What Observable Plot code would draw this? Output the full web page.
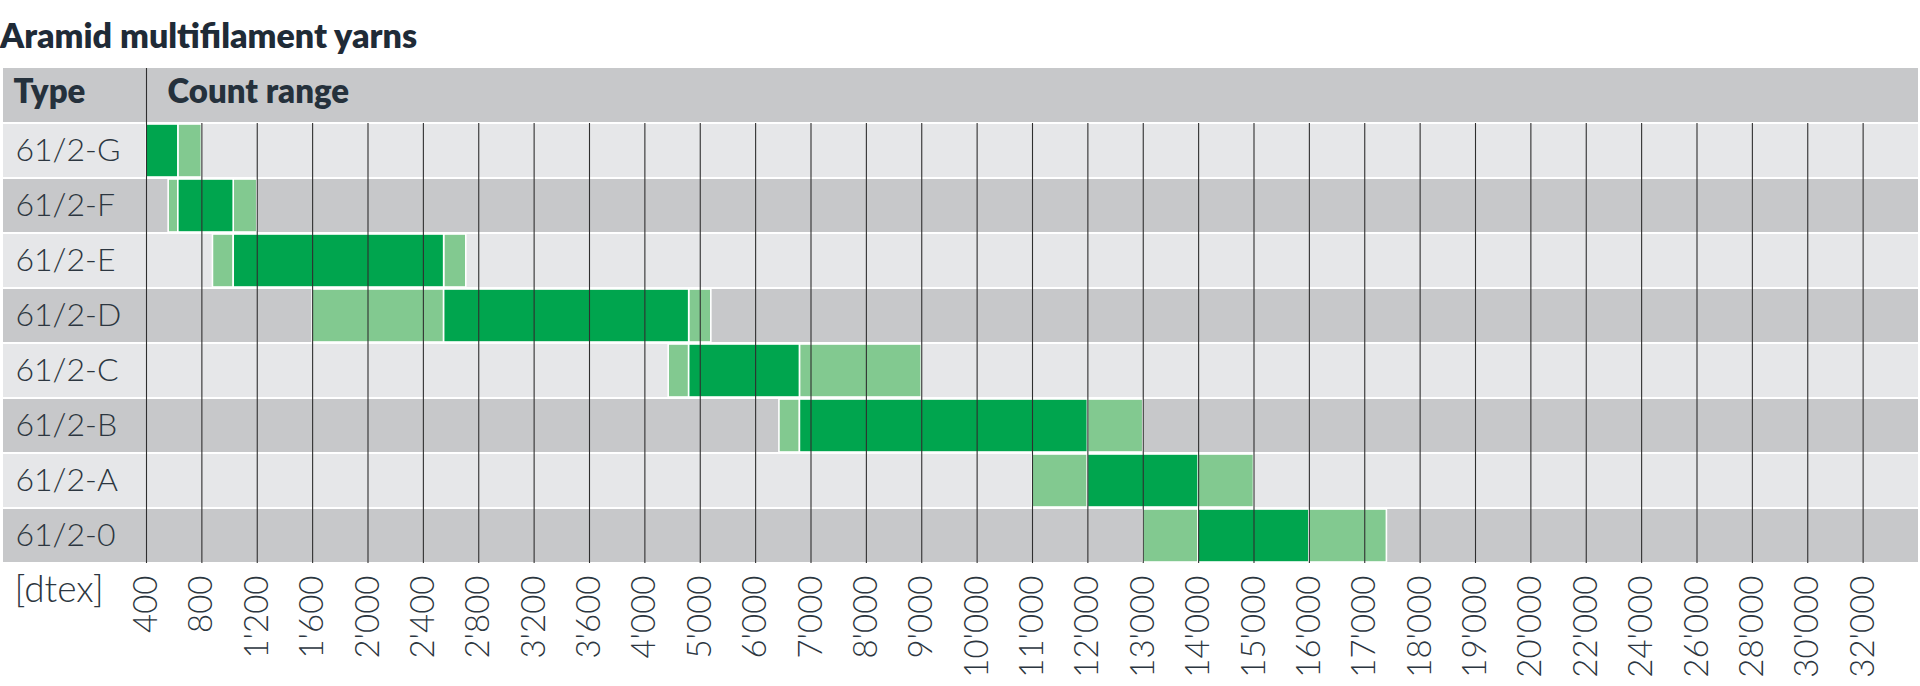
<!DOCTYPE html>
<html>
<head>
<meta charset="utf-8">
<script src="https://cdn.jsdelivr.net/npm/d3@7"></script>
<script src="https://cdn.jsdelivr.net/npm/@observablehq/plot@0.6"></script>
<style>
  html, body { margin: 0; padding: 0; background: #ffffff; }
  #title {
    font-family: Lato, "Open Sans", sans-serif;
    font-weight: 800;
    font-size: 34px;
    line-height: 60px;
    height: 55px;
    padding-top: 5px;
    color: #1f2b37;
    white-space: nowrap;
  }
  #chart svg g[aria-label^="x-axis"] { font-weight: 300; font-size: 33px; }
</style>
</head>
<body>
<div id="title">Aramid multifilament yarns</div>
<div id="chart"></div>
<script>
// ---- data ----
const types = ["61/2-G", "61/2-F", "61/2-E", "61/2-D", "61/2-C", "61/2-B", "61/2-A", "61/2-0"];
// extended (light) range start, core (dark) range start/end, extended range end [dtex]
const rangeMin = [400, 560, 880, 1600, 4430, 6430, 11000, 13000];
const coreMin  = [400, 630, 1030, 2550, 4800, 6800, 12000, 14000];
const coreMax  = [630, 1030, 2550, 4800, 6800, 12000, 14000, 16000];
const rangeMax = [800, 1200, 2710, 5200, 9000, 13000, 15000, 17400];
const tickValues = [400, 800, 1200, 1600, 2000, 2400, 2800, 3200, 3600, 4000, 5000, 6000, 7000, 8000, 9000, 10000,
  11000, 12000, 13000, 14000, 15000, 16000, 17000, 18000, 19000, 20000, 22000, 24000, 26000, 28000, 30000, 32000];
const tickLabels = ["400", "800", "1'200", "1'600", "2'000", "2'400", "2'800", "3'200", "3'600", "4'000", "5'000",
  "6'000", "7'000", "8'000", "9'000", "10'000", "11'000", "12'000", "13'000", "14'000", "15'000", "16'000", "17'000",
  "18'000", "19'000", "20'000", "22'000", "24'000", "26'000", "28'000", "30'000", "32'000"];
const headerType = "Type";
const headerRange = "Count range";
const unitLabel = "[dtex]";

// ---- derived tables ----
// the axis is not proportional: tick marks are evenly spaced, so map dtex to tick-slot position
const slot = d3.scaleLinear().domain(tickValues).range(d3.range(tickValues.length));
const segments = types.flatMap((t, i) => [
  {type: t, from: rangeMin[i], to: coreMin[i], kind: "ext"},
  {type: t, from: coreMin[i], to: coreMax[i], kind: "core"},
  {type: t, from: coreMax[i], to: rangeMax[i], kind: "ext"}
]).filter(d => d.to > d.from);
const rows = types.map((t, i) => ({type: t, i}));
const slots = d3.range(tickValues.length);
const grid = types.flatMap(t => slots.map(s => ({type: t, s}))).concat([{type: headerType, s: 0}]);

const font = 'Lato, "Open Sans", sans-serif';
const chart = Plot.plot({
  width: 1920,
  height: 626,
  marginTop: 8,
  marginBottom: 123,
  marginLeft: 3,
  marginRight: 2,
  style: {fontFamily: font, fontSize: "33px", color: "#2c3640", background: "transparent"},
  x: {
    domain: [0, tickValues.length],
    range: [146, 1918],
    ticks: slots,
    tickFormat: i => tickLabels[i],
    tickRotate: -90,
    tickSize: 0,
    tickPadding: 12,
    label: null
  },
  y: {domain: [headerType, ...types], padding: 0, axis: null},
  marks: [
    // header band and alternating row bands
    Plot.cell([headerType], {y: d => d, fill: "#c7c8ca", insetBottom: 1}),
    Plot.cell(rows.filter(d => d.i % 2 === 0), {y: "type", fill: "#e6e7e9", insetTop: 1, insetBottom: 1}),
    Plot.cell(rows.filter(d => d.i % 2 === 1), {y: "type", fill: "#c7c8ca", insetTop: 1, insetBottom: 1}),
    // count ranges
    Plot.barX(segments.filter(d => d.kind === "ext"), {
      x1: d => slot(d.from), x2: d => slot(d.to), y: "type",
      fill: "#82c990", stroke: "#ffffff", strokeWidth: 1.6, insetTop: 1, insetBottom: 1
    }),
    Plot.barX(segments.filter(d => d.kind === "core"), {
      x1: d => slot(d.from), x2: d => slot(d.to), y: "type",
      fill: "#00a54e", stroke: "#ffffff", strokeWidth: 1.6, insetTop: 1, insetBottom: 1
    }),
    // vertical grid lines
    Plot.tickX(grid, {x: "s", y: "type", stroke: "#2f2f2f", strokeWidth: 1.1}),
    // header texts
    Plot.text([headerType], {y: d => d, text: d => d, frameAnchor: "left", dx: 10, dy: -4,
      fontSize: 33, fontWeight: 800, fill: "#25313c", textAnchor: "start", fontFamily: font}),
    Plot.text([headerRange], {y: () => headerType, x: () => 0, text: d => d, dx: 21, dy: -4,
      fontSize: 33, fontWeight: 800, fill: "#25313c", textAnchor: "start", fontFamily: font}),
    // row labels
    Plot.text(rows, {y: "type", text: "type", frameAnchor: "left", dx: 12,
      fontSize: 32, fontWeight: 300, fill: "#2c3640", textAnchor: "start", fontFamily: font}),
    // unit label
    Plot.text([unitLabel], {text: d => d, frameAnchor: "bottom-left", dx: 11, dy: 12, lineAnchor: "top",
      fontSize: 37, fontWeight: 300, fill: "#2c3640", textAnchor: "start", fontFamily: font})
  ]
});
document.getElementById("chart").append(chart);
</script>
</body>
</html>
